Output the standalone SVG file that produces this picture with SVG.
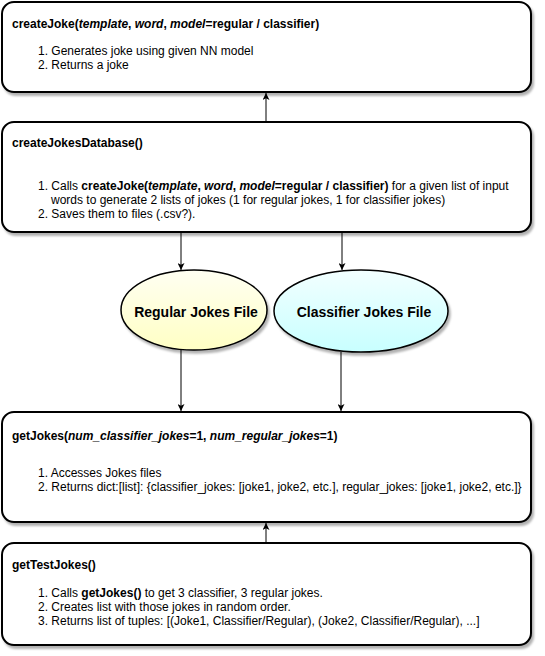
<svg xmlns="http://www.w3.org/2000/svg" width="545" height="656" viewBox="0 0 545 656">
<style>
text{font-family:"Liberation Sans",Arial,sans-serif;font-size:12px;fill:#000}
.b{font-weight:bold}
.bi{font-weight:bold;font-style:italic}
.box{fill:#fff;stroke:#000;stroke-width:2;filter:url(#sh)}
.ell{stroke:#000;stroke-width:1.5;filter:url(#sh)}
.lbl{font-size:14px;font-weight:bold;text-anchor:middle}
.con{stroke:#000;stroke-width:1;fill:none;marker-end:url(#ah)}
</style>
<defs>
<filter id="sh" x="-5%" y="-5%" width="110%" height="115%">
<feDropShadow dx="2" dy="3" stdDeviation="1.2" flood-color="#000" flood-opacity="0.3"/>
</filter>
<linearGradient id="gy" x1="0" y1="0" x2="0" y2="1">
<stop offset="0" stop-color="#fffff2"/>
<stop offset="1" stop-color="#ffffc4"/>
</linearGradient>
<linearGradient id="gc" x1="0" y1="0" x2="0" y2="1">
<stop offset="0" stop-color="#f2ffff"/>
<stop offset="1" stop-color="#c8ffff"/>
</linearGradient>
<marker id="ah" viewBox="0 0 10 10" refX="10" refY="5" markerWidth="7" markerHeight="7" markerUnits="userSpaceOnUse" orient="auto">
<path d="M0,0 L10,5 L0,10 L2.5,5 Z" fill="#000"/>
</marker>
</defs>

<g id="connectors">
<line class="con" x1="266" y1="122" x2="266" y2="93"/>
<line class="con" x1="181" y1="232" x2="181" y2="270"/>
<line class="con" x1="342" y1="232" x2="342" y2="270"/>
<line class="con" x1="181" y1="350" x2="181" y2="411"/>
<line class="con" x1="341" y1="352" x2="341" y2="411"/>
<line class="con" x1="266" y1="543" x2="266" y2="523"/>
</g>

<g id="createJoke">
<rect class="box" x="2" y="2" width="529" height="90" rx="12" ry="12"/>
<text x="12" y="28"><tspan class="b">createJoke(</tspan><tspan class="bi">template</tspan><tspan class="b">, </tspan><tspan class="bi">word</tspan><tspan class="b">, </tspan><tspan class="bi">model</tspan><tspan class="b">=regular / classifier)</tspan></text>
<text x="38" y="55">1. Generates joke using given NN model</text>
<text x="38" y="69">2. Returns a joke</text>
</g>

<g id="createJokesDatabase">
<rect class="box" x="2" y="122" width="529" height="110" rx="12" ry="12"/>
<text x="12" y="147" class="b">createJokesDatabase()</text>
<text x="38" y="190">1. Calls <tspan class="b">createJoke(</tspan><tspan class="bi">template</tspan><tspan class="b">, </tspan><tspan class="bi">word</tspan><tspan class="b">, </tspan><tspan class="bi">model</tspan><tspan class="b">=regular / classifier)</tspan> for a given list of input</text>
<text x="51" y="204">words to generate 2 lists of jokes (1 for regular jokes, 1 for classifier jokes)</text>
<text x="38" y="218">2. Saves them to files (.csv?).</text>
</g>

<g id="regularJokesFile">
<ellipse class="ell" cx="194" cy="310" rx="73" ry="40" fill="url(#gy)"/>
<text class="lbl" x="196" y="317">Regular Jokes File</text>
</g>

<g id="classifierJokesFile">
<ellipse class="ell" cx="361" cy="311" rx="87" ry="41" fill="url(#gc)"/>
<text class="lbl" x="364" y="317">Classifier Jokes File</text>
</g>

<g id="getJokes">
<rect class="box" x="2" y="412" width="529" height="110" rx="12" ry="12"/>
<text x="12" y="440"><tspan class="b">getJokes(</tspan><tspan class="bi">num_classifier_jokes</tspan><tspan class="b">=1, </tspan><tspan class="bi">num_regular_jokes</tspan><tspan class="b">=1)</tspan></text>
<text x="38" y="477">1. Accesses Jokes files</text>
<text x="38" y="491">2. Returns dict:[list]: {classifier_jokes: [joke1, joke2, etc.], regular_jokes: [joke1, joke2, etc.]}</text>
</g>

<g id="getTestJokes">
<rect class="box" x="2" y="543" width="529" height="102" rx="12" ry="12"/>
<text x="12" y="569" class="b">getTestJokes()</text>
<text x="38" y="597">1. Calls <tspan class="b">getJokes()</tspan> to get 3 classifier, 3 regular jokes.</text>
<text x="38" y="611">2. Creates list with those jokes in random order.</text>
<text x="38" y="625">3. Returns list of tuples: [(Joke1, Classifier/Regular), (Joke2, Classifier/Regular), ...]</text>
</g>
</svg>
